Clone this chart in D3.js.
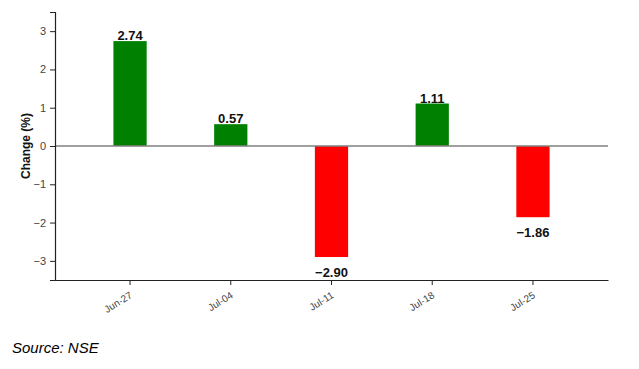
<!DOCTYPE html>
<html>
<head>
<meta charset="utf-8">
<script src="https://cdn.jsdelivr.net/npm/d3@7"></script>
<style>
  body { margin: 0; background: #fff; }
  svg { display: block; font-family: "Liberation Sans", Arial, sans-serif; }
</style>
</head>
<body>
<svg width="639" height="369"></svg>
<script>
// weekly change data
const weeks = ["Jun-27", "Jul-04", "Jul-11", "Jul-18", "Jul-25"];
const changes = [2.74, 0.57, -2.90, 1.11, -1.86];
const yTicks = [-3, -2, -1, 0, 1, 2, 3];

const data = weeks.map(function(w, i) { return { week: w, value: changes[i] }; });

const svg = d3.select("svg");
const plotLeft = 55, plotRight = 608, plotTop = 12, plotBottom = 280;

const x = d3.scaleBand()
    .domain(weeks)
    .range([plotLeft, plotRight])
    .paddingInner(0.67)
    .paddingOuter(0.58);

const y = d3.scaleLinear()
    .domain([-3.5, 3.5])
    .range([plotBottom, plotTop]);

// bars
svg.append("g")
    .selectAll("rect")
    .data(data)
    .join("rect")
    .attr("x", function(d) { return x(d.week); })
    .attr("width", x.bandwidth())
    .attr("y", function(d) { return y(Math.max(0, d.value)); })
    .attr("height", function(d) { return Math.abs(y(d.value) - y(0)); })
    .attr("fill", function(d) { return d.value >= 0 ? "#008000" : "#ff0000"; });

// zero line
svg.append("line")
    .attr("x1", plotLeft)
    .attr("x2", plotRight)
    .attr("y1", y(0))
    .attr("y2", y(0))
    .attr("stroke", "#808080")
    .attr("stroke-width", 1.5);

// value labels
svg.append("g")
    .selectAll("text")
    .data(data)
    .join("text")
    .attr("x", function(d) { return x(d.week) + x.bandwidth() / 2; })
    .attr("y", function(d) { return d.value >= 0 ? y(d.value) - 1 : y(d.value) + 20; })
    .attr("text-anchor", "middle")
    .attr("font-size", 13)
    .attr("font-weight", "bold")
    .attr("fill", "#111")
    .text(function(d) { return d3.format(".2f")(d.value); });

// y axis
const yAxis = svg.append("g")
    .attr("transform", "translate(" + plotLeft + ",0)")
    .call(d3.axisLeft(y).tickValues(yTicks).tickFormat(d3.format("d")).tickSize(5).tickPadding(4));
yAxis.select(".domain").attr("stroke", "#222").attr("stroke-width", 1.2);
yAxis.selectAll(".tick line").attr("stroke", "#222");
yAxis.selectAll(".tick text").attr("fill", "#444").attr("font-size", 11)
    .attr("font-family", "Liberation Sans, Arial, sans-serif");

// x axis
const xAxis = svg.append("g")
    .attr("transform", "translate(0," + plotBottom + ")")
    .call(d3.axisBottom(x).tickSize(5).tickSizeOuter(0));
xAxis.select(".domain").attr("stroke", "#222").attr("stroke-width", 1.2);
xAxis.selectAll(".tick line").attr("stroke", "#222");
xAxis.selectAll(".tick text")
    .attr("fill", "#444")
    .attr("font-size", 10)
    .attr("font-family", "Liberation Sans, Arial, sans-serif")
    .attr("text-anchor", "end")
    .attr("dy", null)
    .attr("y", 0)
    .attr("transform", "translate(3,17) rotate(-32)");

// y label
svg.append("text")
    .attr("transform", "translate(30," + ((plotTop + plotBottom) / 2) + ") rotate(-90)")
    .attr("text-anchor", "middle")
    .attr("font-size", 12)
    .attr("font-weight", "bold")
    .attr("fill", "#111")
    .text("Change (%)");

// source note
svg.append("text")
    .attr("x", 12)
    .attr("y", 353)
    .attr("font-size", 15)
    .attr("font-style", "italic")
    .attr("fill", "#000")
    .text("Source: NSE");
</script>
</body>
</html>
